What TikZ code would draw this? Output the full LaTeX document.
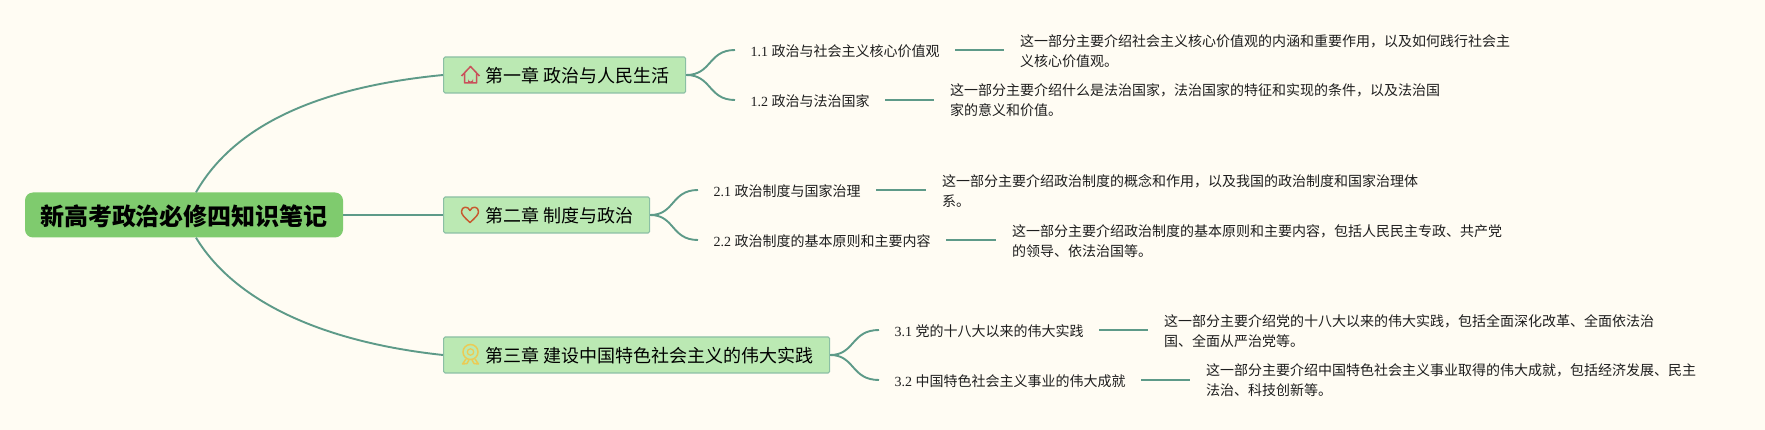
\documentclass[tikz,border=0pt]{standalone}
\usepackage{fontspec}
\setmainfont{Liberation Serif}
\newfontfamily\cjk{Noto Sans CJK SC}
\definecolor{bgcol}{HTML}{FFFCF3}
\definecolor{rootcol}{HTML}{7FCB6E}
\definecolor{chcol}{HTML}{BBE9B3}
\definecolor{chline}{HTML}{8BBFA4}
\definecolor{linkcol}{HTML}{5D9A88}
\definecolor{txtcol}{HTML}{1E1E1E}
\definecolor{housecol}{HTML}{C9505A}
\definecolor{heartcol}{HTML}{C8592F}
\definecolor{medalcol}{HTML}{EBCB55}
\tikzset{
  rootbox/.style={rectangle, rounded corners=8pt, fill=rootcol, inner xsep=15pt, inner ysep=0pt, minimum height=45pt, text height=22pt, text depth=0pt, text=black, font=\cjk\bfseries\fontsize{24}{24}\selectfont},
  chbox/.style={rectangle, rounded corners=1.5pt, draw=chline, line width=1.2pt, fill=chcol, anchor=west, inner xsep=16pt, inner ysep=0pt, minimum height=36pt, text height=15pt, text depth=0pt, text=black, font=\cjk\fontsize{18}{18}\selectfont},
  subbox/.style={anchor=west, inner xsep=15.5pt, inner ysep=0pt, text height=14pt, text depth=0pt, text=txtcol, font=\fontsize{14}{14}\selectfont},
  descbox/.style={anchor=west, inner xsep=16pt, inner ysep=0pt, align=left, text=txtcol, font=\cjk\fontsize{14}{20}\selectfont},
  link/.style={draw=linkcol, line width=1.9pt},
}
\begin{document}
\begin{tikzpicture}[x=1pt, y=-1pt]
\fill[bgcol] (0,0) rectangle (1765,430);
\useasboundingbox (0,0) rectangle (1765,430);

\node[rootbox] (root) at (184,215){新高考政治必修四知识笔记};

\node[chbox] (ch1) at (443,75){\hspace{26pt}第一章 政治与人民生活};
\node[chbox] (ch2) at (443,215){\hspace{26pt}第二章 制度与政治};
\node[chbox] (ch3) at (443,355){\hspace{26pt}第三章 建设中国特色社会主义的伟大实践};

\node[subbox] (sub11) at (735,50){1.1 {\cjk 政治与社会主义核心价值观}};
\node[subbox] (sub12) at (735,100){1.2 {\cjk 政治与法治国家}};
\node[subbox] (sub21) at (698,190){2.1 {\cjk 政治制度与国家治理}};
\node[subbox] (sub22) at (698,240){2.2 {\cjk 政治制度的基本原则和主要内容}};
\node[subbox] (sub31) at (879,330){3.1 {\cjk 党的十八大以来的伟大实践}};
\node[subbox] (sub32) at (879,380){3.2 {\cjk 中国特色社会主义事业的伟大成就}};

\node[descbox] (txt11) at (1004,51){这一部分主要介绍社会主义核心价值观的内涵和重要作用，以及如何践行社会主\\义核心价值观。};
\node[descbox] (txt12) at (934,100.5){这一部分主要介绍什么是法治国家，法治国家的特征和实现的条件，以及法治国\\家的意义和价值。};
\node[descbox] (txt21) at (926,191){这一部分主要介绍政治制度的概念和作用，以及我国的政治制度和国家治理体\\系。};
\node[descbox] (txt22) at (996,241){这一部分主要介绍政治制度的基本原则和主要内容，包括人民民主专政、共产党\\的领导、依法治国等。};
\node[descbox] (txt31) at (1148,331){这一部分主要介绍党的十八大以来的伟大实践，包括全面深化改革、全面依法治\\国、全面从严治党等。};
\node[descbox] (txt32) at (1190,380.5){这一部分主要介绍中国特色社会主义事业取得的伟大成就，包括经济发展、民主\\法治、科技创新等。};

\draw[link]([xshift=12pt]root.north) .. controls (240,115) and (340,85) .. (ch1.west);
\draw[link](root.east) -- (ch2.west);
\draw[link]([xshift=12pt]root.south) .. controls (240,310) and (340,344) .. (ch3.west);

\draw[link](ch1.east) .. controls (712,75) and (708,50) .. (sub11.west);
\draw[link](ch1.east) .. controls (712,75) and (708,100) .. (sub12.west);
\draw[link](ch2.east) .. controls (675,215) and (671,190) .. (sub21.west);
\draw[link](ch2.east) .. controls (675,215) and (671,240) .. (sub22.west);
\draw[link](ch3.east) .. controls (855,355) and (851,330) .. (sub31.west);
\draw[link](ch3.east) .. controls (855,355) and (851,380) .. (sub32.west);

\draw[link](sub11.east) -- (sub11.east -| txt11.west);
\draw[link](sub12.east) -- (sub12.east -| txt12.west);
\draw[link](sub21.east) -- (sub21.east -| txt21.west);
\draw[link](sub22.east) -- (sub22.east -| txt22.west);
\draw[link](sub31.east) -- (sub31.east -| txt31.west);
\draw[link](sub32.east) -- (sub32.east -| txt32.west);

\draw[color=housecol, line width=1.5pt, line join=round] (461.5,76) -- (470.5,66.5) -- (479.5,76) (464.5,73.5) -- (464.5,83) -- (476.5,83) -- (476.5,73.5);
\fill[housecol] (468,83) -- (468,79) arc[start angle=180, end angle=0, radius=2.5] -- (473,83) -- cycle;

\draw[color=heartcol, line width=1.5pt, line join=round] (470,222.5) .. controls (464,217) and (461.5,214.5) .. (461.5,211.5) .. controls (461.5,206.5) and (468,205.5) .. (470,210.5) .. controls (472,205.5) and (478.5,206.5) .. (478.5,211.5) .. controls (478.5,214.5) and (476,217) .. (470,222.5) -- cycle;

\draw[color=medalcol, line width=1.5pt] (470.5,352) circle[radius=7.5];
\draw[color=medalcol, line width=1.3pt] (470.5,352) circle[radius=3.2];
\draw[color=medalcol, line width=1.5pt, line join=round] (466,359) -- (462.5,364) -- (467,363.5) -- (469,360) (475,359) -- (478.5,364) -- (474,363.5) -- (472,360);

\end{tikzpicture}
\end{document}
